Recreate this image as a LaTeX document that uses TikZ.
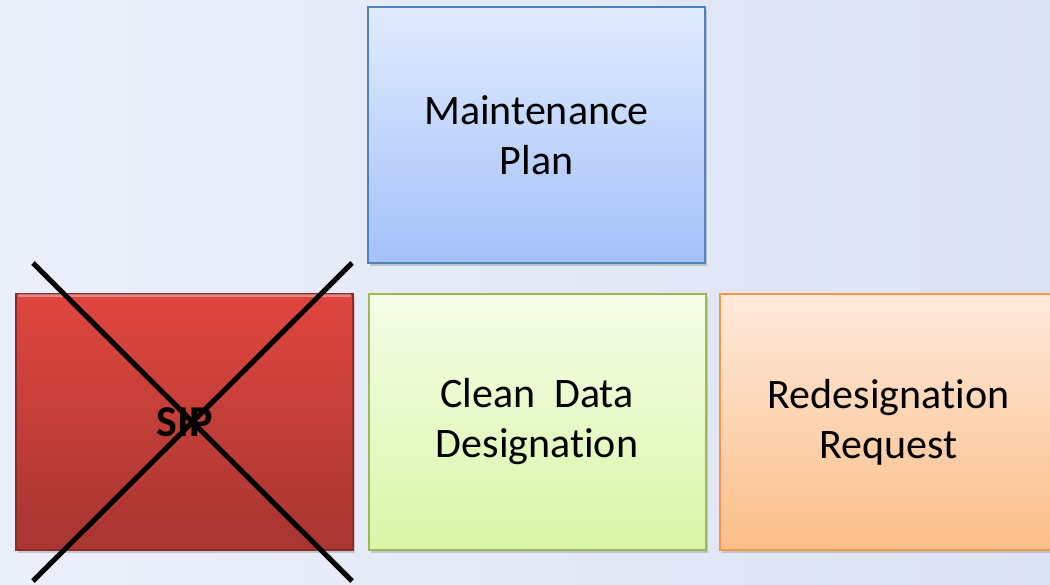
\documentclass[tikz,border=0pt]{standalone}
\usepackage{fontspec}
\setmainfont[Ligatures=NoCommon]{Carlito}
\usetikzlibrary{shadows}
\definecolor{bgL}{HTML}{EBEFFA}
\definecolor{bgR}{HTML}{DCE3F4}
\definecolor{blueB}{HTML}{4F81BD}
\definecolor{blueT}{HTML}{E1EBFE}
\definecolor{blueBo}{HTML}{A3C1F9}
\definecolor{redT}{HTML}{E0463F}
\definecolor{redBo}{HTML}{A73530}
\definecolor{redB}{HTML}{8E2B27}
\definecolor{greenB}{HTML}{9BBB59}
\definecolor{greenT}{HTML}{F5FDE8}
\definecolor{greenBo}{HTML}{D8F6A6}
\definecolor{orangeB}{HTML}{F79646}
\definecolor{orangeT}{HTML}{FEEADB}
\definecolor{orangeBo}{HTML}{FBBE88}
\tikzset{
  card/.style={rectangle, minimum width=252.75pt, minimum height=192pt, inner sep=0pt,
    line width=1.5pt, align=center, font=\fontsize{31.5}{37.5}\selectfont,
    drop shadow={opacity=0.35, shadow xshift=1.5pt, shadow yshift=-2.5pt}},
  cross/.style={line width=3.8pt, black},
}
\begin{document}
\begin{tikzpicture}[x=0.75pt,y=-0.75pt]
\useasboundingbox (0,0) rectangle (1050,585);
\fill[left color=bgL, right color=bgR] (0,0) rectangle (1050,585);
\node[card, draw=blueB, top color=blueT, bottom color=blueBo] (mp) at (536.5,135) {Maintenance\\Plan};
\node[card, draw=redB, line width=0.8pt, top color=redT, bottom color=redBo, font=\fontsize{33}{37.5}\selectfont\bfseries] (sip) at (184.5,422) {SIP};
\node[card, draw=greenB, top color=greenT, bottom color=greenBo] (cdd) at (537,422) {Clean\ \ Data\\Designation};
\node[card, draw=orangeB, top color=orangeT, bottom color=orangeBo] (rr) at (888.5,422) {Redesignation\\Request};
\draw[white, opacity=0.35, line width=2pt] ([xshift=2pt,yshift=-1.5pt]sip.north west) -- ([xshift=-2pt,yshift=-1.5pt]sip.north east);
\coordinate (xa) at (33,263);
\coordinate (xb) at (352,581);
\coordinate (xc) at (352,263);
\coordinate (xd) at (33,581);
\draw[cross] (xa) -- (xb);
\draw[cross] (xc) -- (xd);
\end{tikzpicture}
\end{document}
